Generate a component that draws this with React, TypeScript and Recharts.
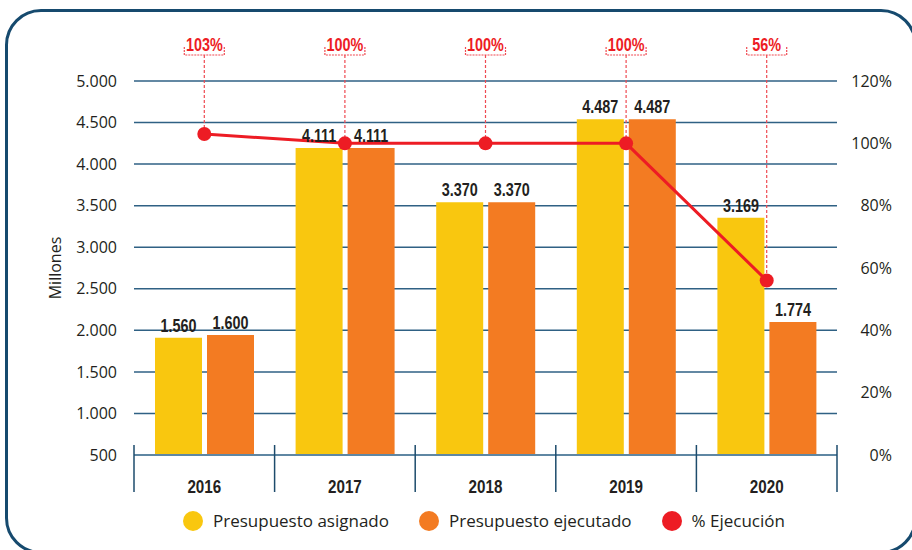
import { ComposedChart, Bar, Line, XAxis, YAxis, CartesianGrid, LabelList } from 'recharts';

const years = ['2016', '2017', '2018', '2019', '2020'];
// bar heights as drawn in the picture
const asignado = [1910, 4195, 3540, 4540, 3355];
const ejecutado = [1945, 4195, 3540, 4540, 2100];
// printed value labels
const asignadoLabels = ['1.560', '4.111', '3.370', '4.487', '3.169'];
const ejecutadoLabels = ['1.600', '4.111', '3.370', '4.487', '1.774'];
const ejecucion = [103, 100, 100, 100, 56];

const leftTicks = [500, 1000, 1500, 2000, 2500, 3000, 3500, 4000, 4500, 5000];
const rightTicks = [0, 20, 40, 60, 80, 100, 120];

const data = years.map((year, i) => ({
    year,
    asignado: asignado[i],
    ejecutado: ejecutado[i],
    asignadoLabel: asignadoLabels[i],
    ejecutadoLabel: ejecutadoLabels[i],
    ejecucion: ejecucion[i],
}));

const YELLOW = '#F9C70F';
const ORANGE = '#F37B22';
const RED = '#ED1C24';
const GRID = '#2f6184';
const TEXT = '#231f20';
const BOLD = '"Liberation Sans", sans-serif';
const SANS = '"Open Sans", sans-serif';

const PLOT_W = 703;

const fmt = (v: number) => v.toLocaleString('de-DE');

// bold text squeezed horizontally, like a condensed face
function NarrowText({ x, y, fill, size, children }: any) {
    return (
        <text
            transform={`translate(${x},${y}) scale(0.8,1)`}
            textAnchor="middle"
            fill={fill}
            fontFamily={BOLD}
            fontWeight="bold"
            fontSize={size}
        >
            {children}
        </text>
    );
}

function YearTick(props: any) {
    const { x, y, payload, index, visibleTicksCount } = props;
    const bw = PLOT_W / years.length;
    return (
        <g>
            <line x1={x - bw / 2} x2={x - bw / 2} y1={y - 12} y2={y + 35} stroke="#1d4b6c" strokeWidth={1.5} />
            {index === visibleTicksCount - 1 && (
                <line x1={x + bw / 2} x2={x + bw / 2} y1={y - 12} y2={y + 35} stroke="#1d4b6c" strokeWidth={1.5} />
            )}
            <NarrowText x={x} y={y + 36} fill={TEXT} size={19}>
                {payload.value}
            </NarrowText>
        </g>
    );
}

function PctTick(props: any) {
    const { x, y, payload } = props;
    return (
        <text x={x + 53} y={y} dy="0.355em" textAnchor="end" fill={TEXT} fontFamily={SANS} fontSize={16}>
            {payload.value}%
        </text>
    );
}

function PctDot(props: any) {
    const { cx, cy, value, index } = props;
    return (
        <g key={`dot-${index}`}>
            <line x1={cx} x2={cx} y1={55} y2={cy} stroke="#ef4a52" strokeWidth={1.2} strokeDasharray="3 2" />
            <path
                d={`M${cx - 20},47 V55 H${cx + 20} V47`}
                fill="none"
                stroke="#ef4a52"
                strokeWidth={1.2}
                strokeDasharray="2 1"
            />
            <NarrowText x={cx} y={51} fill={RED} size={18}>
                {value}%
            </NarrowText>
            <circle cx={cx} cy={cy} r={7} fill={RED} />
        </g>
    );
}

function BarLabel(props: any) {
    const { x, y, width, value } = props;
    return (
        <NarrowText x={x + width / 2} y={y - 6} fill={TEXT} size={18}>
            {value}
        </NarrowText>
    );
}

const legendItems = [
    { name: 'Presupuesto asignado', color: YELLOW },
    { name: 'Presupuesto ejecutado', color: ORANGE },
    { name: '% Ejecución', color: RED },
];

export default function App() {
    return (
        <div style={{ position: 'fixed', left: 0, top: 0, width: 912, height: 550, overflow: 'hidden', background: '#fff' }}>
            <div
                style={{
                    position: 'absolute',
                    left: 5,
                    top: 9,
                    width: 912,
                    height: 545,
                    border: '3px solid #164a6e',
                    borderRadius: 36,
                    boxSizing: 'border-box',
                }}
            />
            <div style={{ position: 'absolute', left: 0, top: 0 }}>
                <ComposedChart
                    width={912}
                    height={550}
                    data={data}
                    margin={{ top: 81, right: 0, left: 0, bottom: 55 }}
                    barGap={5}
                >
                    <CartesianGrid yAxisId="left" vertical={false} stroke={GRID} strokeWidth={1.5} />
                    <XAxis
                        dataKey="year"
                        height={40}
                        tickLine={false}
                        axisLine={{ stroke: '#5f87a3', strokeWidth: 2 }}
                        tickSize={0}
                        tick={<YearTick />}
                        interval={0}
                    />
                    <YAxis
                        yAxisId="left"
                        width={134}
                        domain={[500, 5000]}
                        ticks={leftTicks}
                        tickFormatter={fmt}
                        axisLine={false}
                        tickLine={false}
                        tickSize={0}
                        tickMargin={17}
                        tick={{ fill: TEXT, fontSize: 16, fontFamily: SANS }}
                        label={{
                            value: 'Millones',
                            angle: -90,
                            position: 'insideLeft',
                            offset: 0,
                            dx: 55,
                            style: { fill: TEXT, fontSize: 16, fontFamily: SANS, textAnchor: 'middle' },
                        }}
                    />
                    <YAxis
                        yAxisId="right"
                        orientation="right"
                        width={75}
                        domain={[0, 120]}
                        ticks={rightTicks}
                        axisLine={false}
                        tickLine={false}
                        tickSize={0}
                        tick={<PctTick />}
                    />
                    <Bar yAxisId="left" dataKey="asignado" fill={YELLOW} barSize={47} isAnimationActive={false}>
                        <LabelList dataKey="asignadoLabel" content={<BarLabel />} />
                    </Bar>
                    <Bar yAxisId="left" dataKey="ejecutado" fill={ORANGE} barSize={47} isAnimationActive={false}>
                        <LabelList dataKey="ejecutadoLabel" content={<BarLabel />} />
                    </Bar>
                    <Line
                        yAxisId="right"
                        dataKey="ejecucion"
                        stroke={RED}
                        strokeWidth={3}
                        dot={<PctDot />}
                        activeDot={false}
                        isAnimationActive={false}
                    />
                </ComposedChart>
            </div>
            <div
                style={{
                    position: 'absolute',
                    left: 183,
                    top: 509,
                    display: 'flex',
                    alignItems: 'center',
                    gap: 30,
                    fontFamily: SANS,
                    fontSize: 17,
                    color: TEXT,
                }}
            >
                {legendItems.map((item) => (
                    <div key={item.name} style={{ display: 'flex', alignItems: 'center' }}>
                        <span
                            style={{
                                display: 'inline-block',
                                width: 20,
                                height: 20,
                                borderRadius: 10,
                                background: item.color,
                                marginRight: 10,
                            }}
                        />
                        <span>{item.name}</span>
                    </div>
                ))}
            </div>
        </div>
    );
}
